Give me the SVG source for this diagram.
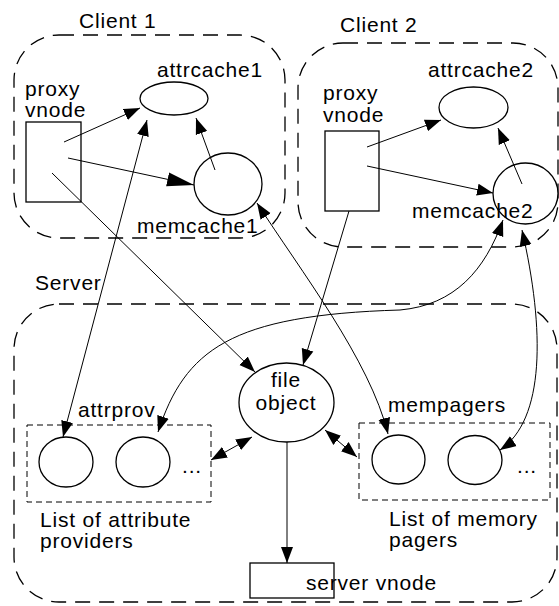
<svg xmlns="http://www.w3.org/2000/svg" width="559" height="606" viewBox="0 0 559 606">
<style>
text{font-family:"Liberation Sans",Arial,sans-serif;font-size:21px;fill:#000;letter-spacing:0.8px}
.region{fill:none;stroke:#000;stroke-width:1.3;stroke-dasharray:15 9}
.box{fill:none;stroke:#000;stroke-width:1;stroke-dasharray:6 4}
.shape{fill:#fff;stroke:#000;stroke-width:1.3}
.c{fill:none;stroke:#000;stroke-width:1}
.e{marker-end:url(#ah)}
.b{marker-start:url(#ah);marker-end:url(#ah)}
.mid{text-anchor:middle}
</style>
<defs>
<marker id="ah" markerUnits="userSpaceOnUse" markerWidth="17" markerHeight="13" refX="16" refY="6" orient="auto-start-reverse" viewBox="0 0 17 12">
<path d="M0,0 L16,6 L0,12 z" fill="#000"/>
</marker>
<marker id="big" markerUnits="userSpaceOnUse" markerWidth="28" markerHeight="15" refX="27" refY="7" orient="auto" viewBox="0 0 28 14">
<path d="M0,0 L27,7 L0,14 z" fill="#000"/>
</marker>
</defs>
<g id="regions">
<rect class="region" x="14" y="35" width="271" height="203" rx="45" ry="45"/>
<rect class="region" x="298" y="43" width="260" height="204" rx="45" ry="45"/>
<rect class="region" x="14" y="304" width="543" height="298" rx="45" ry="45"/>
<text x="79" y="28">Client 1</text>
<text x="340" y="32">Client 2</text>
<text x="35" y="290">Server</text>
</g>
<g id="proxy1">
<rect class="shape" x="26" y="122" width="55" height="80"/>
<text x="25" y="96">proxy</text>
<text x="25" y="117">vnode</text>
</g>
<g id="attrcache1">
<ellipse class="shape" cx="174" cy="98.5" rx="34" ry="16.5"/>
<text x="157" y="77">attrcache1</text>
</g>
<g id="memcache1">
<ellipse class="shape" cx="228" cy="184" rx="34" ry="31"/>
<text x="137" y="233">memcache1</text>
</g>
<g id="proxy2">
<rect class="shape" x="325" y="131" width="54" height="80"/>
<text x="323" y="100">proxy</text>
<text x="323" y="122">vnode</text>
</g>
<g id="attrcache2">
<ellipse class="shape" cx="473.5" cy="107.5" rx="34.5" ry="20.5"/>
<text x="428" y="77">attrcache2</text>
</g>
<g id="memcache2">
<ellipse class="shape" cx="525.5" cy="193.5" rx="32.5" ry="30.5"/>
<text x="412" y="218">memcache2</text>
</g>
<g id="fileobject">
<ellipse class="shape" cx="286.5" cy="402.5" rx="47.5" ry="39.5"/>
<text class="mid" x="286" y="387">file</text>
<text class="mid" x="286" y="410">object</text>
</g>
<g id="attrprov">
<rect class="box" x="27" y="425" width="184" height="77"/>
<ellipse class="shape" cx="66" cy="462" rx="27" ry="25"/>
<ellipse class="shape" cx="143" cy="462" rx="27" ry="25"/>
<text x="182" y="473">...</text>
<text x="78" y="417">attrprov</text>
<text x="40" y="527">List of attribute</text>
<text x="40" y="548">providers</text>
</g>
<g id="mempagers">
<rect class="box" x="359" y="423" width="191" height="77"/>
<ellipse class="shape" cx="398.5" cy="459.5" rx="26.5" ry="24.5"/>
<ellipse class="shape" cx="475" cy="460" rx="27" ry="24.5"/>
<text x="517" y="473">...</text>
<text x="388" y="412">mempagers</text>
<text x="389" y="526">List of memory</text>
<text x="389" y="547">pagers</text>
</g>
<g id="servervnode">
<rect class="shape" x="250" y="563" width="84" height="35" fill="none"/>
<text x="306" y="590">server vnode</text>
</g>
<g id="connectors">
<path class="c e" d="M64,142 L140,108"/>
<path class="c" d="M68,158 L194,185" marker-end="url(#big)"/>
<path class="c e" d="M215,170 L196,118"/>
<path class="c e" d="M52,173 L255,372"/>
<path class="c b" d="M147,120 L63,437"/>
<path class="c b" d="M257,203 C300,270 370,360 388,434"/>
<path class="c e" d="M367,147 L441,120"/>
<path class="c e" d="M367,166 L493,193"/>
<path class="c e" d="M522,184 L498,128"/>
<path class="c e" d="M349,211 L303,365"/>
<path class="c b" d="M158,432 C185,350 230,315 400,310 C455,305 485,270 503,220"/>
<path class="c b" d="M522,230 C545,330 545,420 500,450"/>
<path class="c b" d="M211,460 L252,437"/>
<path class="c b" d="M325,430 L357,457"/>
<path class="c e" d="M287,442 L287,563"/>
</g>
</svg>
